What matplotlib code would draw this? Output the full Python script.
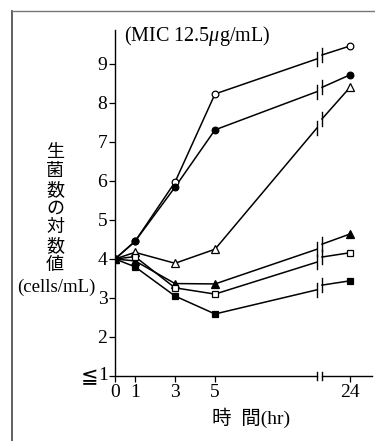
import matplotlib
matplotlib.use("Agg")
import matplotlib.pyplot as plt
from matplotlib.lines import Line2D

plt.rcParams["font.family"] = ["Liberation Serif", "Noto Sans CJK JP", "DejaVu Sans"]
plt.rcParams["mathtext.fontset"] = "custom"
plt.rcParams["mathtext.rm"] = "Liberation Serif"
plt.rcParams["mathtext.it"] = "Liberation Serif:italic"

# sampling times (hr) and tick labels
hours = [0, 1, 3, 5, 24]
tick_labels = ["0", "1", "3", "5", "24"]
y_ticks = [1, 2, 3, 4, 5, 6, 7, 8, 9]
y_tick_labels = ["", "2", "3", "4", "5", "6", "7", "8", "9"]

# log viable counts (cells/mL)
open_circle = [4.0, 4.45, 5.97, 8.23, 9.46]
filled_circle = [4.0, 4.45, 5.84, 7.31, 8.72]
open_triangle = [4.0, 4.17, 3.89, 4.25, 8.40]
filled_triangle = [4.0, 3.95, 3.37, 3.36, 4.64]
open_square = [4.0, 4.06, 3.26, 3.10, 4.16]
filled_square = [4.0, 3.80, 3.05, 2.59, 3.44]

# where each line meets the axis break (left side, right side)
break_open_circle = [9.13, 9.23]
break_filled_circle = [8.29, 8.40]
break_open_triangle = [7.36, 7.59]
break_filled_triangle = [4.25, 4.38]
break_open_square = [3.92, 4.05]
break_filled_square = [3.21, 3.33]

# 24 h is drawn after a break in the time axis
X24 = 11.75
BREAK_L, BREAK_R = 10.1, 10.35


def xpos(t):
    return X24 if t == 24 else t


series = [
    (open_circle, break_open_circle, "o", "white"),
    (filled_circle, break_filled_circle, "o", "black"),
    (open_triangle, break_open_triangle, "^", "white"),
    (filled_triangle, break_filled_triangle, "^", "black"),
    (open_square, break_open_square, "s", "white"),
    (filled_square, break_filled_square, "s", "black"),
]

fig = plt.figure(figsize=(3.75, 4.41), dpi=100)
ax = fig.add_axes([115 / 375, 65 / 441, 257 / 375, 346 / 441])
ax.set_xlim(0, 12.85)
ax.set_ylim(1, 9.87)

xs = [xpos(t) for t in hours]
for vals, brk, marker, face in series:
    ax.plot(xs[:4] + [BREAK_L], vals[:4] + [brk[0]], color="black", lw=1.1, zorder=2)
    ax.plot([BREAK_R, X24], [brk[1], vals[4]], color="black", lw=1.1, zorder=2)
    for bx, by in zip([BREAK_L, BREAK_R], brk):
        ax.plot([bx, bx], [by - 0.18, by + 0.18], color="black", lw=1.0, zorder=2)
    ms = 5.5 if marker == "^" else 4.8
    ax.plot(xs, vals, linestyle="none", marker=marker, ms=ms,
            mfc=face, mec="black", mew=0.9, zorder=3)

# time axis with break
ax.spines["top"].set_visible(False)
ax.spines["right"].set_visible(False)
ax.spines["bottom"].set_visible(False)
ax.spines["left"].set_linewidth(1.0)
for seg in ([0, BREAK_L], [BREAK_R, 12.85]):
    ax.add_line(Line2D(seg, [1, 1], color="black", lw=1.0, clip_on=False))
for bx in (BREAK_L, BREAK_R):
    ax.add_line(Line2D([bx, bx], [0.9, 1.1], color="black", lw=1.0, clip_on=False))

ax.set_xticks(xs)
ax.set_xticklabels(tick_labels)
ax.set_yticks(y_ticks)
ax.set_yticklabels(y_tick_labels)
ax.tick_params(axis="both", direction="out", length=4, width=0.9, labelsize=14, pad=1.5)
ax.tick_params(axis="x", pad=2)

# lowest y tick reads "≦1" (detection limit)
ytr = ax.get_yaxis_transform()
ax.text(-0.027, 1, "1", transform=ytr, fontsize=14, ha="right", va="center")
ax.text(-0.066, 1.02, "≦", transform=ytr, fontsize=15, ha="right", va="center_baseline",
        family="DejaVu Sans")

ax.text(0.45, 9.72, "(MIC 12.5$\\mu$g/mL)", fontsize=14.5, va="center", ha="left")

# y label: vertical characters then unit
for i, ch in enumerate("生菌数の対数値"):
    fig.text(55 / 375, 1 - (152 + i * 18.8) / 441, ch, fontsize=13,
             family="Noto Sans CJK JP", ha="center", va="center")
fig.text(56 / 375, 1 - 287 / 441, "(cells/mL)", fontsize=13.5, ha="center", va="center")
fig.text(251 / 375, 1 - 418 / 441, "時  間(hr)", fontsize=14, ha="center", va="center")

# outer frame
fig.add_artist(Line2D([12 / 375, 12 / 375], [0, 1 - 11 / 441], color="#555555", lw=1.3))
fig.add_artist(Line2D([12 / 375, 1], [1 - 11 / 441, 1 - 11 / 441], color="#777777", lw=1.0))

fig.savefig("out.png", dpi=100)
